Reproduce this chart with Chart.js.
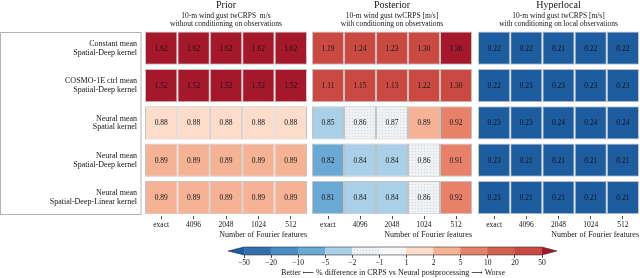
<!DOCTYPE html>
<html>
<head>
<meta charset="utf-8">
<script src="https://cdn.jsdelivr.net/npm/chart.js@4.4.1/dist/chart.umd.min.js"></script>
<style>
    html, body { margin: 0; padding: 0; background: #fff; }
    body { width: 640px; height: 278px; position: relative; overflow: hidden; }
    .panel { position: absolute; }
</style>
</head>
<body>
<div class="panel" style="left:0;top:0;width:307px;height:240px"><canvas id="priorChart"></canvas></div>
<div class="panel" style="left:312px;top:0;width:160px;height:240px"><canvas id="posteriorChart"></canvas></div>
<div class="panel" style="left:478px;top:0;width:161px;height:240px"><canvas id="hyperlocalChart"></canvas></div>
<div class="panel" style="left:224px;top:240px;width:340px;height:38px"><canvas id="colorbarChart"></canvas></div>

<script>
var fourierFeatures = ['exact', '4096', '2048', '1024', '512'];

var modelLabels = [
    ['Constant mean', 'Spatial-Deep kernel'],
    ['COSMO-1E ctrl mean', 'Spatial-Deep kernel'],
    ['Neural mean', 'Spatial kernel'],
    ['Neural mean', 'Spatial-Deep kernel'],
    ['Neural mean', 'Spatial-Deep-Linear kernel']
];

// twCRPS per model (rows) and Fourier features (columns)
var priorCrps = [
    [1.62, 1.62, 1.62, 1.62, 1.62],
    [1.52, 1.52, 1.52, 1.52, 1.52],
    [0.88, 0.88, 0.88, 0.88, 0.88],
    [0.89, 0.89, 0.89, 0.89, 0.89],
    [0.89, 0.89, 0.89, 0.89, 0.89]
];
var posteriorCrps = [
    [1.19, 1.24, 1.23, 1.30, 1.36],
    [1.11, 1.15, 1.13, 1.22, 1.30],
    [0.85, 0.86, 0.87, 0.89, 0.92],
    [0.82, 0.84, 0.84, 0.86, 0.91],
    [0.81, 0.84, 0.84, 0.86, 0.92]
];
var hyperlocalCrps = [
    [0.22, 0.22, 0.21, 0.22, 0.22],
    [0.22, 0.23, 0.23, 0.23, 0.23],
    [0.23, 0.23, 0.24, 0.24, 0.24],
    [0.23, 0.21, 0.21, 0.21, 0.21],
    [0.23, 0.21, 0.21, 0.21, 0.21]
];

// % difference in CRPS vs Neural postprocessing
var priorPct = [
    [86, 86, 86, 86, 86],
    [75, 75, 75, 75, 75],
    [1.2, 1.2, 1.2, 1.2, 1.2],
    [2.3, 2.3, 2.3, 2.3, 2.3],
    [2.3, 2.3, 2.3, 2.3, 2.3]
];
var posteriorPct = [
    [37, 42, 41, 49, 56],
    [28, 32, 30, 40, 49],
    [-2.3, -1.1, -1.05, 2.3, 5.7],
    [-5.7, -3.4, -3.4, -1.1, 5.2],
    [-6.9, -3.4, -3.4, -1.1, 5.7]
];
var hyperlocalPct = [
    [-75, -75, -76, -75, -75],
    [-75, -74, -74, -74, -74],
    [-74, -74, -72, -72, -72],
    [-74, -76, -76, -76, -76],
    [-74, -76, -76, -76, -76]
];

var binEdges = [-50, -20, -10, -5, -2, -1, 1, 2, 5, 10, 20, 50];
// under, 11 bins, over
var binColors = ['#1c5c9f', '#2f6fb1', '#4a8cc3', '#6aa9d4', '#a9d0e6', '#eef2f5', '#f7f7f7',
                 '#fcdccb', '#f5b294', '#e8816a', '#d6604d', '#cb4943', '#a5182c'];
var dottedBins = [1, 5, 10];

var serif = '"Liberation Serif", "DejaVu Serif", serif';
var textColor = '#151515';

function dotted(color) {
    var c = document.createElement('canvas');
    c.width = 3; c.height = 3;
    var g = c.getContext('2d');
    g.fillStyle = color;
    g.fillRect(0, 0, 3, 3);
    g.fillStyle = 'rgba(120,120,120,0.22)';
    g.fillRect(1, 1, 1, 1);
    return g.createPattern(c, 'repeat');
}

function binIndex(pct) {
    var i = 0;
    while (i < binEdges.length && pct >= binEdges[i]) i++;
    return i;
}

function cellColor(pct) {
    var b = binIndex(pct);
    return b === 5 ? dotted(binColors[b]) : binColors[b];
}

var cellValuePlugin = {
    id: 'cellValues',
    afterDatasetsDraw: function (chart) {
        var ctx = chart.ctx;
        ctx.save();
        ctx.font = '7.5px ' + serif;
        ctx.fillStyle = textColor;
        ctx.textAlign = 'center';
        ctx.textBaseline = 'middle';
        chart.data.datasets.forEach(function (ds, i) {
            chart.getDatasetMeta(i).data.forEach(function (bar, j) {
                var p = bar.getCenterPoint();
                ctx.fillText(ds.crps[j].toFixed(2), p.x, p.y + 0.5);
            });
        });
        ctx.restore();
    }
};

var labelBoxPlugin = {
    id: 'labelBox',
    beforeDraw: function (chart) {
        var a = chart.chartArea, ctx = chart.ctx;
        var first = chart.getDatasetMeta(0).data[0];
        var last = chart.getDatasetMeta(0).data[modelLabels.length - 1];
        var top = first.y - first.height / 2, bottom = last.y + last.height / 2;
        ctx.save();
        ctx.strokeStyle = '#b4b4b4';
        ctx.lineWidth = 1;
        ctx.strokeRect(0.5, Math.round(top) + 0.5, a.left - 4.5, Math.round(bottom - top) - 1);
        ctx.restore();
    }
};

function createHeatmap(elementId, title, subtitle, crps, pct, showRows) {
    var datasets = fourierFeatures.map(function (f, c) {
        return {
            label: f,
            data: crps.map(function () { return [c - 0.5, c + 0.5]; }),
            crps: crps.map(function (row) { return row[c]; }),
            backgroundColor: pct.map(function (row) { return cellColor(row[c]); }),
            borderColor: '#c3c3c3',
            borderWidth: 1,
            borderSkipped: false,
            categoryPercentage: 0.89,
            barPercentage: 1
        };
    });
    var plugins = [cellValuePlugin];
    if (showRows) plugins.push(labelBoxPlugin);

    return new Chart(document.getElementById(elementId), {
        type: 'bar',
        data: { labels: modelLabels, datasets: datasets },
        plugins: plugins,
        options: {
            indexAxis: 'y',
            responsive: true,
            maintainAspectRatio: false,
            animation: false,
            layout: { padding: { top: 0, bottom: 1, left: 0, right: 0 } },
            plugins: {
                legend: { display: false },
                tooltip: { enabled: false },
                title: {
                    display: true, text: title, fullSize: false, color: textColor,
                    font: { family: serif, size: 10, weight: 'normal', lineHeight: 1.1 },
                    padding: { top: 0, bottom: 0 }
                },
                subtitle: {
                    display: true, text: subtitle, fullSize: false, color: textColor,
                    font: { family: serif, size: 7.5, lineHeight: 1.1 },
                    padding: { top: 1, bottom: 1 }
                }
            },
            scales: {
                x: {
                    type: 'linear', min: -0.5, max: 4.5,
                    afterBuildTicks: function (s) {
                        s.ticks = fourierFeatures.map(function (f, i) { return { value: i }; });
                    },
                    ticks: {
                        callback: function (v) { return fourierFeatures[v]; },
                        font: { family: serif, size: 7.5 }, color: textColor,
                        padding: 1, maxRotation: 0, autoSkip: false
                    },
                    grid: { drawOnChartArea: false, drawTicks: true, tickLength: 3, color: '#222', lineWidth: 0.8 },
                    border: { display: false },
                    title: {
                        display: true, text: 'Number of Fourier features', align: 'end', color: textColor,
                        font: { family: serif, size: 8, lineHeight: 1.1 }, padding: { top: 0, bottom: 0 }
                    }
                },
                y: {
                    type: 'category', stacked: true, display: showRows,
                    grid: { display: false, drawTicks: false },
                    border: { display: false },
                    ticks: { font: { family: serif, size: 8, lineHeight: 1.1 }, color: textColor, padding: 8 },
                    afterFit: function (s) { if (showRows) s.width = 145; }
                }
            }
        }
    });
}

var colorbarExtendPlugin = {
    id: 'colorbarExtend',
    afterDatasetsDraw: function (chart) {
        var a = chart.chartArea, x = chart.scales.x, ctx = chart.ctx;
        var x0 = x.getPixelForValue(0), x1 = x.getPixelForValue(binEdges.length - 1);
        var mid = (a.top + a.bottom) / 2;
        ctx.save();
        ctx.fillStyle = binColors[0];
        ctx.beginPath();
        ctx.moveTo(x0, a.top); ctx.lineTo(x0 - 16, mid); ctx.lineTo(x0, a.bottom); ctx.closePath();
        ctx.fill();
        ctx.fillStyle = binColors[binColors.length - 1];
        ctx.beginPath();
        ctx.moveTo(x1, a.top); ctx.lineTo(x1 + 15, mid); ctx.lineTo(x1, a.bottom); ctx.closePath();
        ctx.fill();
        ctx.strokeStyle = '#333';
        ctx.lineWidth = 0.6;
        ctx.beginPath();
        ctx.moveTo(x0 - 16, mid); ctx.lineTo(x0, a.top); ctx.lineTo(x1, a.top);
        ctx.lineTo(x1 + 15, mid); ctx.lineTo(x1, a.bottom); ctx.lineTo(x0, a.bottom);
        ctx.closePath();
        ctx.stroke();
        ctx.restore();
    }
};

function createColorbar(elementId) {
    var bins = binColors.slice(1, binColors.length - 1);
    return new Chart(document.getElementById(elementId), {
        type: 'bar',
        data: {
            labels: ['cb'],
            datasets: [{
                data: bins.map(function (c, i) { return { x: [i, i + 1], y: 'cb' }; }),
                backgroundColor: bins.map(function (c, i) {
                    return dottedBins.indexOf(i + 1) >= 0 ? dotted(c) : c;
                }),
                borderWidth: 0,
                categoryPercentage: 1,
                barPercentage: 1
            }]
        },
        plugins: [colorbarExtendPlugin],
        options: {
            indexAxis: 'y',
            responsive: true,
            maintainAspectRatio: false,
            animation: false,
            layout: { padding: { top: 7, bottom: 1, left: 20, right: 22 } },
            plugins: {
                legend: { display: false },
                tooltip: { enabled: false },
                title: {
                    display: true, position: 'bottom', fullSize: false, color: textColor,
                    text: 'Better \u27F5 % difference in CRPS vs Neural postprocessing \u27F6 Worse',
                    font: { family: serif, size: 8, weight: 'normal', lineHeight: 1.1 },
                    padding: { top: 0, bottom: 0 }
                }
            },
            scales: {
                x: {
                    type: 'linear', min: 0, max: binEdges.length - 1,
                    afterBuildTicks: function (s) {
                        s.ticks = binEdges.map(function (e, i) { return { value: i }; });
                    },
                    ticks: {
                        callback: function (v) {
                            var e = binEdges[v];
                            return e < 0 ? '\u2212' + Math.abs(e) : String(e);
                        },
                        font: { family: serif, size: 7.5, lineHeight: 1.1 }, color: textColor,
                        padding: 1, maxRotation: 0, autoSkip: false
                    },
                    grid: { drawOnChartArea: false, drawTicks: true, tickLength: 3, color: '#222', lineWidth: 0.8 },
                    border: { display: false }
                },
                y: { display: false, stacked: true }
            }
        }
    });
}

(function () {
    createHeatmap('priorChart', 'Prior',
        ['10-m wind gust twCRPS  m/s', 'without conditioning on observations'],
        priorCrps, priorPct, true);
    createHeatmap('posteriorChart', 'Posterior',
        ['10-m wind gust twCRPS [m/s]', 'with conditioning on observations'],
        posteriorCrps, posteriorPct, false);
    createHeatmap('hyperlocalChart', 'Hyperlocal',
        ['10-m wind gust twCRPS [m/s]', 'with conditioning on local observations'],
        hyperlocalCrps, hyperlocalPct, false);
    createColorbar('colorbarChart');
})();
</script>
</body>
</html>
